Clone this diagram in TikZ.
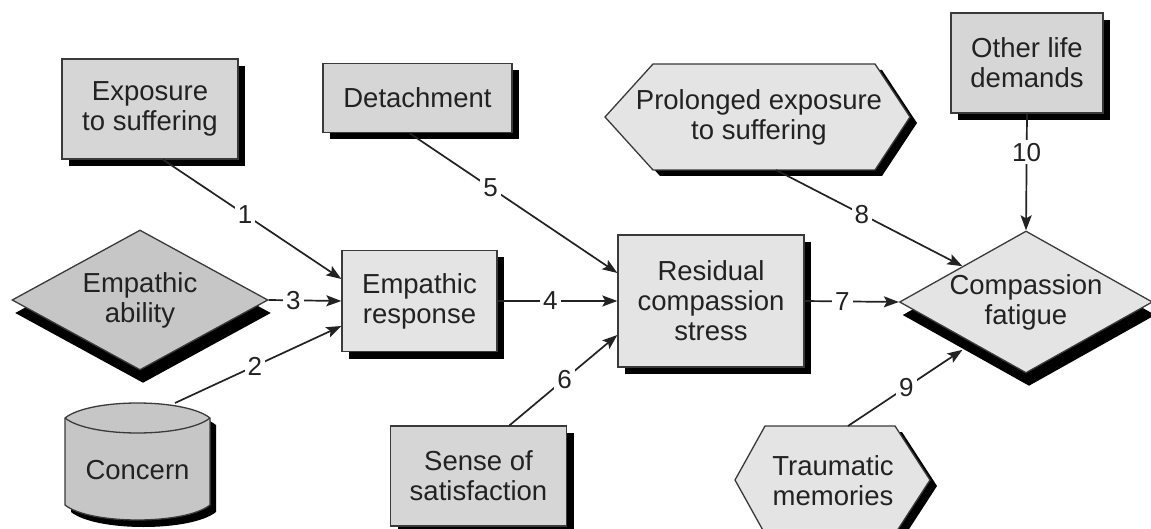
\documentclass[tikz,border=0pt]{standalone}
\usepackage{fontspec}
\setmainfont{Liberation Sans}
\usetikzlibrary{shadows,arrows.meta,shapes.geometric}
\definecolor{lightfill}{HTML}{E4E4E4}
\definecolor{midfill}{HTML}{D6D6D6}
\definecolor{darkfill}{HTML}{C6C6C6}
\definecolor{edge}{HTML}{3A3A3A}
\definecolor{ink}{HTML}{222222}
\begin{document}
\begin{tikzpicture}[x=1pt,y=-1pt,
  txt/.style={text=ink, align=center, font=\fontsize{27.5}{30}\selectfont, inner sep=0pt},
  shapeline/.style={draw=edge, line width=1.3pt},
  box/.style={txt, shapeline},
  rbox/.style={box, rectangle, general shadow={fill=black, shadow xshift=7pt, shadow yshift=-7pt}},
  dbox/.style={box, diamond, aspect=1.8, general shadow={fill=black, shadow xshift=3pt, shadow yshift=-13pt}},
  conn/.style={line width=1.7pt, draw=ink, -{Stealth[length=15pt,width=11pt,inset=3pt]}},
  lbl/.style={fill=white, inner sep=3pt, text=ink, font=\fontsize{26}{26}\selectfont}
]
\useasboundingbox (0,0) rectangle (1151,529);

% rectangles
\node[rbox, fill=midfill, minimum width=176pt, minimum height=100pt] (exp) at (150,109) {Exposure\\to suffering};
\node[rbox, fill=midfill, minimum width=189pt, minimum height=69pt] (det) at (417.5,98) {Detachment};
\node[rbox, fill=midfill, minimum width=152pt, minimum height=100pt] (old) at (1027,63) {Other life\\demands};
\node[rbox, fill=lightfill, minimum width=155pt, minimum height=101pt] (er) at (419.5,301) {Empathic\\response};
\node[rbox, fill=lightfill, minimum width=186pt, minimum height=132pt] (res) at (711,301) {Residual\\compassion\\stress};
\node[rbox, fill=midfill, minimum width=176pt, minimum height=100pt] (sense) at (478.5,476) {Sense of\\satisfaction};

% diamonds
\node[dbox, fill=darkfill, minimum width=256pt, minimum height=140pt] (ea) at (140,300) {Empathic\\ability};
\node[dbox, fill=lightfill, minimum width=250pt, minimum height=142pt] (cf) at (1026,302) {Compassion\\fatigue};

% Concern cylinder
\fill[black] (71,425) .. controls (96,405) and (191,405) .. (216,425) -- (216,512) .. controls (191,532) and (96,532) .. (71,512) -- cycle;
\filldraw[shapeline, fill=darkfill] (65,418) .. controls (90,398) and (185,398) .. (210,418) -- (210,505) .. controls (185,525) and (90,525) .. (65,505) -- cycle;
\draw[shapeline] (65,418) .. controls (90,438) and (185,438) .. (210,418);
\node[txt] (concern) at (137.5,470) {Concern};
\coordinate (concerntop) at (175,403);

% Prolonged exposure hexagon
\fill[black] (612,123) -- (660,70) -- (882,70) -- (917,123) -- (882,176) -- (660,176) -- cycle;
\filldraw[shapeline, fill=lightfill] (605,117) -- (653,64) -- (875,64) -- (910,117) -- (875,170) -- (653,170) -- cycle;
\node[txt] (prolonged) at (759,117) {Prolonged exposure\\to suffering};
\coordinate (prolbot) at (776,170);

% Traumatic memories hexagon
\fill[black] (742,486) -- (772,432) -- (902,432) -- (937,486) -- (902,540) -- (772,540) -- cycle;
\filldraw[shapeline, fill=lightfill] (735,480) -- (765,426) -- (895,426) -- (930,480) -- (895,534) -- (765,534) -- cycle;
\node[txt] (traum) at (833,481) {Traumatic\\memories};
\coordinate (traumtop) at (848,426);

% connectors
\draw[conn] ([xshift=13pt]exp.south) -- node[lbl, pos=0.46] {1} ([yshift=22pt]er.west);
\draw[conn] (concerntop) -- node[lbl, pos=0.48] {2} ([yshift=-25pt]er.west);
\draw[conn] (ea.east) -- node[lbl, pos=0.34] {3} (er.west);
\draw[conn] (er.east) -- node[lbl, pos=0.44] {4} (res.west);
\draw[conn] ([xshift=-8pt]det.south) -- node[lbl, pos=0.39] {5} ([yshift=28pt]res.west);
\draw[conn] ([xshift=31pt]sense.north) -- node[lbl, pos=0.51] {6} ([yshift=-34pt]res.west);
\draw[conn] (res.east) -- node[lbl, pos=0.4] {7} (cf.west);
\draw[conn] (prolbot) -- node[lbl, pos=0.46] {8} (cf.north west);
\draw[conn] (traumtop) -- node[lbl, pos=0.51] {9} ([yshift=-12pt]cf.south west);
\draw[conn] (old.south) -- node[lbl, pos=0.33] {10} (cf.north);
\end{tikzpicture}
\end{document}
